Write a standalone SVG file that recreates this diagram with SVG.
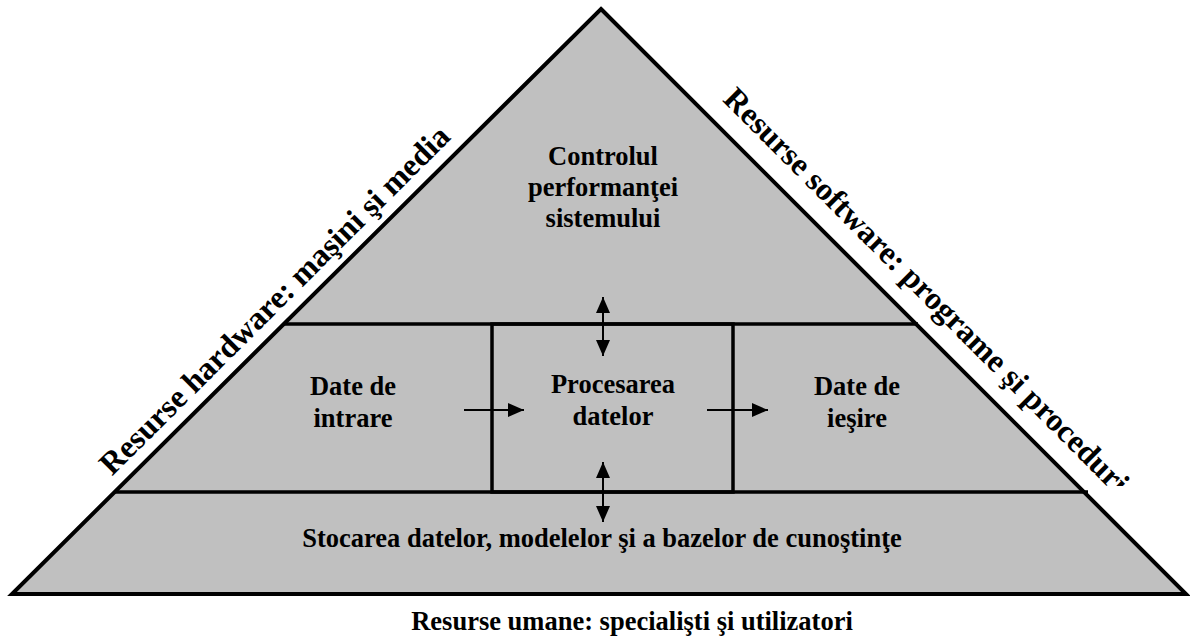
<svg xmlns="http://www.w3.org/2000/svg" width="1190" height="639" viewBox="0 0 1190 639">
<style>
.ln{stroke:#000;stroke-width:3.5;fill:none}
.ar{stroke:#000;stroke-width:2;fill:none}
</style>
<defs>
<marker id="ah" viewBox="0 0 16 14" refX="16" refY="7" markerWidth="16" markerHeight="14" markerUnits="userSpaceOnUse" orient="auto-start-reverse">
<path d="M0,0 L16,7 L0,14 Z" fill="#000"/>
</marker>
<clipPath id="clipR"><rect x="600" y="0" width="590" height="486"/></clipPath>
</defs>
<rect width="1190" height="639" fill="#fff"/>
<g id="pyramid">
<polygon points="601,9 1186,594 12,594" fill="#c0c0c0" stroke="#000" stroke-width="4" stroke-linejoin="miter"/>
<line class="ln" x1="284" y1="324" x2="918" y2="324"/>
<line class="ln" x1="115" y1="492" x2="1088" y2="492"/>
</g>
<g id="box-procesare">
<rect x="492" y="324" width="241" height="168" class="ln"/>
<text x="613" y="393" font-family="Liberation Serif" font-size="26.5" font-weight="bold" text-anchor="middle">Procesarea</text>
<text x="613" y="425" font-family="Liberation Serif" font-size="26.5" font-weight="bold" text-anchor="middle">datelor</text>
</g>
<g id="node-control">
<text x="603" y="165" font-family="Liberation Serif" font-size="26.5" font-weight="bold" text-anchor="middle">Controlul</text>
<text x="603" y="196" font-family="Liberation Serif" font-size="26.5" font-weight="bold" text-anchor="middle">performanţei</text>
<text x="603" y="227" font-family="Liberation Serif" font-size="26.5" font-weight="bold" text-anchor="middle">sistemului</text>
</g>
<g id="node-intrare">
<text x="353" y="395" font-family="Liberation Serif" font-size="26.5" font-weight="bold" text-anchor="middle">Date de</text>
<text x="353" y="427" font-family="Liberation Serif" font-size="26.5" font-weight="bold" text-anchor="middle">intrare</text>
</g>
<g id="node-iesire">
<text x="857" y="395" font-family="Liberation Serif" font-size="26.5" font-weight="bold" text-anchor="middle">Date de</text>
<text x="857" y="427" font-family="Liberation Serif" font-size="26.5" font-weight="bold" text-anchor="middle">ieşire</text>
</g>
<g id="node-stocare">
<text x="602" y="547" font-family="Liberation Serif" font-size="26.5" font-weight="bold" text-anchor="middle">Stocarea datelor, modelelor şi a bazelor de cunoştinţe</text>
</g>
<g id="label-hardware">
<text transform="translate(282,307.5) rotate(-44.86)" font-family="Liberation Serif" font-size="32" font-weight="bold" text-anchor="middle">Resurse hardware: maşini şi media</text>
</g>
<g id="label-software" clip-path="url(#clipR)">
<text transform="translate(919,298) rotate(45.05)" font-family="Liberation Serif" font-size="32" font-weight="bold" text-anchor="middle">Resurse software: programe şi proceduri</text>
</g>
<g id="label-umane">
<text x="632" y="630" font-family="Liberation Serif" font-size="26.5" font-weight="bold" text-anchor="middle">Resurse umane: specialişti şi utilizatori</text>
</g>
<g id="connectors">
<line class="ar" x1="464" y1="410" x2="524" y2="410" marker-end="url(#ah)"/>
<line class="ar" x1="707" y1="410" x2="768" y2="410" marker-end="url(#ah)"/>
<line class="ar" x1="603" y1="297" x2="603" y2="356" marker-start="url(#ah)" marker-end="url(#ah)"/>
<line class="ar" x1="603" y1="462" x2="603" y2="522" marker-start="url(#ah)" marker-end="url(#ah)"/>
</g>
</svg>
